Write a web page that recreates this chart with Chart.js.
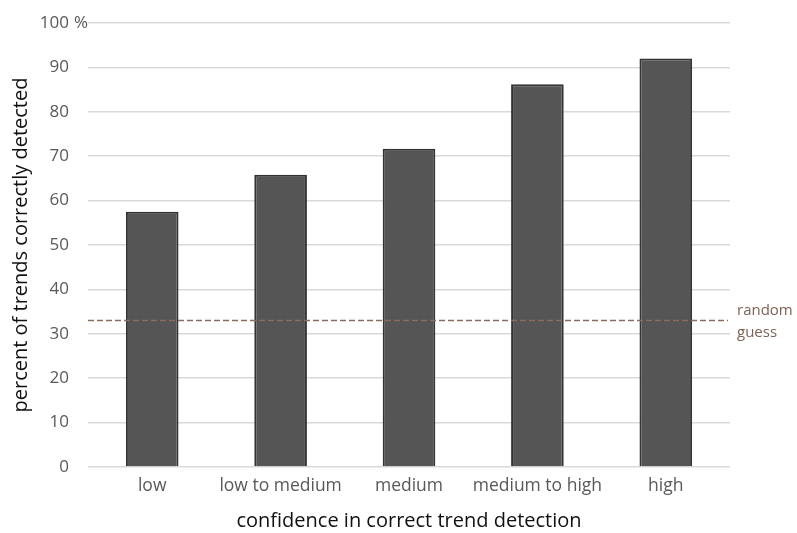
<!DOCTYPE html>
<html>
<head>
<meta charset="utf-8">
<script src="https://cdn.jsdelivr.net/npm/chart.js@4/dist/chart.umd.min.js"></script>
<style>
  html, body { margin: 0; padding: 0; background: #fff; }
  #wrap { width: 797px; height: 533px; }
</style>
</head>
<body>
<div id="wrap"><canvas id="myChart"></canvas></div>
<script>
const categories = ['low', 'low to medium', 'medium', 'medium to high', 'high'];
const percentCorrect = [57.5, 65.8, 71.7, 86.2, 92.0];
const randomGuess = 33;
const yTicks = [0, 10, 20, 30, 40, 50, 60, 70, 80, 90, 100];

const fontFamily = "'Open Sans', 'Noto Sans', sans-serif";

// línea de referencia + etiqueta "random guess" + el "%" del 100
const guessLine = {
    id: 'guessLine',
    afterDatasetsDraw(chart) {
        const { ctx, chartArea, scales } = chart;
        const y = scales.y.getPixelForValue(randomGuess);
        ctx.save();
        ctx.strokeStyle = '#8a6d5d';
        ctx.lineWidth = 1.5;
        ctx.setLineDash([6, 3]);
        ctx.beginPath();
        ctx.moveTo(chartArea.left, y);
        ctx.lineTo(chartArea.right - 2, y);
        ctx.stroke();
        ctx.setLineDash([]);
        ctx.fillStyle = '#7d6253';
        ctx.font = '15px ' + fontFamily;
        ctx.textAlign = 'left';
        ctx.textBaseline = 'middle';
        ctx.fillText('random', chartArea.right + 7, y - 10);
        ctx.fillText('guess', chartArea.right + 7, y + 12);

        const yTop = scales.y.getPixelForValue(100);
        ctx.fillStyle = '#595959';
        ctx.font = '17px ' + fontFamily;
        ctx.fillText('%', chartArea.left - 14, yTop);
        ctx.restore();
    }
};

const config = {
    type: 'bar',
    data: {
        labels: categories,
        datasets: [{
            data: percentCorrect,
            backgroundColor: '#555555',
            borderColor: '#333333',
            borderWidth: 2,
            barPercentage: 0.41,
            categoryPercentage: 1
        }]
    },
    options: {
        responsive: true,
        maintainAspectRatio: false,
        animation: false,
        layout: { padding: { top: 23, right: 67, bottom: 0, left: 0 } },
        plugins: {
            legend: { display: false },
            tooltip: { enabled: false }
        },
        scales: {
            x: {
                grid: { display: false },
                border: { display: false },
                ticks: {
                    color: '#595959',
                    font: { family: fontFamily, size: 17.5 },
                    padding: 1,
                    maxRotation: 0,
                    autoSkip: false
                },
                title: {
                    display: true,
                    text: 'confidence in correct trend detection',
                    color: '#111',
                    font: { family: fontFamily, size: 20 },
                    padding: { top: 0, bottom: 0 }
                },
                afterFit(scale) {
                    scale.height = 66;
                    scale.paddingLeft = 0;
                    scale.paddingRight = 0;
                }
            },
            y: {
                min: 0,
                max: 100,
                afterBuildTicks(scale) {
                    scale.ticks = yTicks.map(v => ({ value: v }));
                },
                grid: { color: '#d9d9d9', lineWidth: 1.5, drawTicks: false },
                border: { display: false },
                ticks: {
                    color: '#595959',
                    font: { family: fontFamily, size: 17 },
                    padding: 19
                },
                title: {
                    display: true,
                    text: 'percent of trends correctly detected',
                    color: '#111',
                    font: { family: fontFamily, size: 20 },
                    padding: { top: 9, bottom: 0 }
                },
                afterFit(scale) {
                    scale.width = 88;
                    scale.paddingTop = 0;
                    scale.paddingBottom = 0;
                }
            }
        }
    },
    plugins: [guessLine]
};

new Chart(document.getElementById('myChart'), config);
</script>
</body>
</html>
